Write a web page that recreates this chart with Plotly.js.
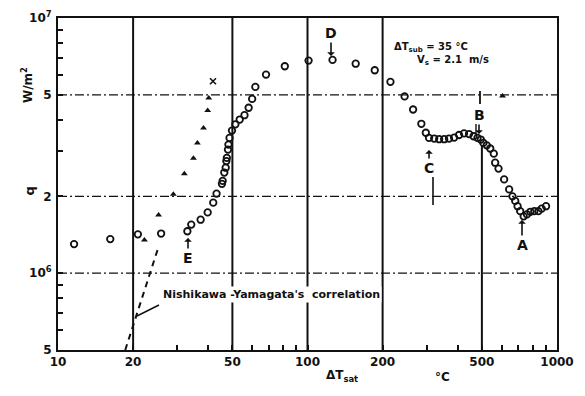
<!DOCTYPE html>
<html>
<head>
<meta charset="utf-8">
<script src="https://cdn.plot.ly/plotly-3.0.1.min.js"></script>
<style>
  html, body { margin: 0; padding: 0; background: #fff; }
  #chart { width: 585px; height: 396px; }
</style>
</head>
<body>
<div id="chart"></div>
<script>
// Boiling curve: wall superheat ΔT_sat (°C) vs heat flux q (W/m²)
const circT = [11.6, 16.2, 20.9, 25.9, 33.0, 34.2, 37.3, 39.8, 41.9, 43.2, 45.4, 45.7, 46.4, 47.0, 47.3, 47.5,
  48.0, 48.2, 48.7, 49.8, 51.4, 53.5, 55.9, 58.1, 60.0, 61.8, 68.2, 81.1, 101, 126, 156, 186, 215, 245,
  265, 286, 298, 307, 322, 337, 353, 369, 387, 405, 424, 444, 463, 480, 495, 507, 523, 540, 558, 565,
  583, 614, 643, 663, 680, 695, 712, 735, 758, 782, 811, 842, 868, 904];
const circQ = [1.30e6, 1.36e6, 1.42e6, 1.43e6, 1.46e6, 1.55e6, 1.62e6, 1.73e6, 1.89e6, 2.05e6, 2.24e6, 2.30e6,
  2.48e6, 2.59e6, 2.75e6, 2.83e6, 3.05e6, 3.19e6, 3.39e6, 3.62e6, 3.83e6, 4.00e6, 4.16e6, 4.45e6, 4.82e6,
  5.37e6, 6.00e6, 6.47e6, 6.81e6, 6.85e6, 6.62e6, 6.24e6, 5.62e6, 4.93e6, 4.38e6, 3.85e6, 3.55e6, 3.39e6,
  3.37e6, 3.35e6, 3.35e6, 3.37e6, 3.40e6, 3.48e6, 3.53e6, 3.51e6, 3.44e6, 3.39e6, 3.34e6, 3.24e6, 3.17e6,
  3.08e6, 2.94e6, 2.71e6, 2.57e6, 2.33e6, 2.13e6, 2.00e6, 1.92e6, 1.83e6, 1.75e6, 1.67e6, 1.70e6, 1.74e6,
  1.75e6, 1.75e6, 1.79e6, 1.83e6];

const triT = [22.2, 25.3, 29.0, 32.1, 34.9, 36.2, 38.3, 39.8, 40.2, 605];
const triQ = [1.35e6, 1.69e6, 2.04e6, 2.45e6, 2.82e6, 3.24e6, 3.71e6, 4.34e6, 4.86e6, 4.95e6];

const crossT = [41.8];
const crossQ = [5.65e6];

// Nishikawa-Yamagata correlation (q ~ ΔT^3)
const corrT = [18.6, 25.1];
const corrQ = [5.0e5, 1.24e6];

const xTickVals = [10, 20, 30, 40, 50, 60, 70, 80, 90, 100, 200, 300, 400, 500, 600, 700, 800, 900, 1000];
const xTickText = ['10', '20', '', '', '50', '', '', '', '', '100', '200', '', '', '500', '', '', '', '', '1000'];
const yTickVals = [5e5, 6e5, 7e5, 8e5, 9e5, 1e6, 2e6, 3e6, 4e6, 5e6, 6e6, 7e6, 8e6, 9e6, 1e7];
const yTickText = ['5', '', '', '', '', '10<sup>6</sup>', '2', '', '', '5', '', '', '', '', '10<sup>7</sup>'];

const xGrid = [20, 50, 100, 200];
const yGrid = [1e6, 2e6, 5e6];

const L = 58, T = 18, W = 499, H = 332;
const px = v => (v - L) / W;          // pixel column -> paper x
const py = v => (T + H - v) / H;      // pixel row -> paper y

const ink = '#111';
const fam = 'DejaVu Sans, Arial, sans-serif';

const traces = [
  {
    x: corrT, y: corrQ, mode: 'lines', type: 'scatter',
    line: { color: ink, width: 2, dash: '6px,5px' }, hoverinfo: 'skip'
  },
  {
    x: circT, y: circQ, mode: 'markers', type: 'scatter',
    marker: { symbol: 'circle-open', size: 6.5, color: ink, line: { width: 1.8, color: ink } }
  },
  {
    x: triT, y: triQ, mode: 'markers', type: 'scatter',
    marker: { symbol: 'triangle-up', size: 6, color: ink }
  },
  {
    x: crossT, y: crossQ, mode: 'markers', type: 'scatter',
    marker: { symbol: 'x-thin-open', size: 6, color: ink, line: { width: 1.6, color: ink } }
  }
];

const shapes = [];
xGrid.forEach(v => shapes.push({
  type: 'line', xref: 'x', yref: 'paper', x0: v, x1: v, y0: 0, y1: 1, layer: 'below',
  line: { color: ink, width: 2 }
}));
// the 500 °C line stops below the B label
shapes.push({
  type: 'line', xref: 'x', yref: 'y', x0: 500, x1: 500, y0: 5e5, y1: 3.15e6, layer: 'below',
  line: { color: ink, width: 2 }
});
yGrid.forEach(v => shapes.push({
  type: 'line', xref: 'paper', yref: 'y', x0: 0, x1: 1, y0: v, y1: v, layer: 'below',
  line: { color: ink, width: 1.3, dash: '9px,3px,2px,3px' }
}));
// leader from the correlation label to its curve
shapes.push({
  type: 'line', xref: 'paper', yref: 'paper', x0: px(159), y0: py(305), x1: px(137), y1: py(316),
  line: { color: ink, width: 1.5 }
});
// marks around B and C
shapes.push({ type: 'line', xref: 'paper', yref: 'paper', x0: px(480), x1: px(480), y0: py(91), y1: py(104), line: { color: ink, width: 1.8 } });
shapes.push({ type: 'line', xref: 'paper', yref: 'paper', x0: px(476), x1: px(476), y0: py(124), y1: py(134), line: { color: ink, width: 1.4 } });
shapes.push({ type: 'line', xref: 'paper', yref: 'paper', x0: px(433), x1: px(433), y0: py(177), y1: py(205), line: { color: ink, width: 1.6 } });

const letter = (t, x, y, ax, ay) => ({
  text: t, xref: 'paper', yref: 'paper', x: px(x), y: py(y),
  showarrow: true, ax: ax, ay: ay, arrowhead: 1, arrowsize: 0.8, arrowwidth: 1.6, arrowcolor: ink,
  font: { family: fam, size: 14, color: ink, weight: 'bold' }
});

const txt = (t, x, y, opts) => Object.assign({
  text: t, xref: 'paper', yref: 'paper', x: px(x), y: py(y), showarrow: false,
  font: { family: fam, size: 11, color: ink, weight: 'bold' }
}, opts || {});

const annotations = [
  letter('D', 331, 56, 0, -23),
  letter('B', 479, 134, 0, -19),
  letter('C', 429, 150, 0, 18),
  letter('A', 522, 220, 0, 25),
  letter('E', 188, 238, 0, 20),
  txt('ΔT<sub>sub</sub> = 35 °C', 470, 39, { font: { family: fam, size: 10, color: ink, weight: 'bold' } }),
  txt('V<sub>s</sub> = 2.1  m/s', 491, 52, { font: { family: fam, size: 10, color: ink, weight: 'bold' } }),
  txt('Nishikawa -Yamagata\'s  correlation', 161, 303, {
    xanchor: 'left', bgcolor: '#fff', borderpad: 1,
    font: { family: fam, size: 11, color: ink, weight: 'bold' }
  }),
  txt('ΔT<sub>sat</sub>', 342, 386, { font: { family: fam, size: 12, color: ink, weight: 'bold' } }),
  txt('°C', 452, 386, { font: { family: fam, size: 12, color: ink, weight: 'bold' } }),
  txt('W/m<sup>2</sup>', 17, 65, { textangle: -90, font: { family: fam, size: 12, color: ink, weight: 'bold' } }),
  txt('q', 19, 191, { textangle: -90, font: { family: fam, size: 13, color: ink, weight: 'bold' } })
];

const axisCommon = {
  type: 'log', showgrid: false, zeroline: false,
  showline: true, mirror: true, linecolor: ink, linewidth: 2,
  ticks: 'inside', ticklen: 5, tickwidth: 1.5, tickcolor: ink,
  tickmode: 'array',
  tickfont: { family: fam, size: 12, color: ink, weight: 'bold' }
};

const layout = {
  width: 585, height: 396,
  margin: { l: L, r: 585 - L - W, t: T, b: 396 - T - H },
  paper_bgcolor: '#fff', plot_bgcolor: '#fff',
  showlegend: false,
  xaxis: Object.assign({}, axisCommon, { range: [1, 3], tickvals: xTickVals, ticktext: xTickText }),
  yaxis: Object.assign({}, axisCommon, { range: [Math.log10(5e5), 7], tickvals: yTickVals, ticktext: yTickText, ticklabelstandoff: 2 }),
  shapes: shapes,
  annotations: annotations
};

Plotly.newPlot('chart', traces, layout, { displayModeBar: false });
</script>
</body>
</html>
